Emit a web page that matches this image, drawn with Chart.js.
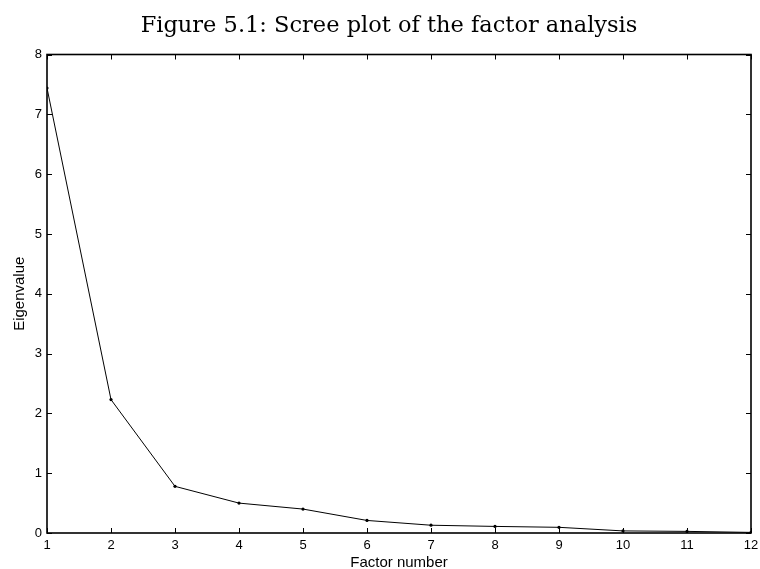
<!DOCTYPE html>
<html>
<head>
<meta charset="utf-8">
<script src="https://cdn.jsdelivr.net/npm/chart.js@4/dist/chart.umd.min.js"></script>
<style>
  html, body { margin: 0; padding: 0; background: #ffffff; }
  #wrap { width: 760px; height: 569px; position: relative; }
</style>
</head>
<body>
<div id="wrap"><canvas id="c" width="760" height="569"></canvas></div>
<script>
const factorNumbers = [1, 2, 3, 4, 5, 6, 7, 8, 9, 10, 11, 12];
const eigenvalues = [7.44, 2.23, 0.78, 0.50, 0.40, 0.21, 0.13, 0.11, 0.095, 0.035, 0.027, 0.01];
const xTickValues = [1, 2, 3, 4, 5, 6, 7, 8, 9, 10, 11, 12];
const yTickValues = [0, 1, 2, 3, 4, 5, 6, 7, 8];
const titleText = 'Figure 5.1: Scree plot of the factor analysis';
const xTitle = 'Factor number';
const yTitle = 'Eigenvalue';

const points = factorNumbers.map((f, i) => ({ x: f, y: eigenvalues[i] }));

const frameTicks = {
  id: 'frameTicks',
  afterDatasetsDraw(chart) {
    const { ctx, chartArea: a, scales } = chart;
    const xs = scales.x, ys = scales.y;
    const L = 5;
    ctx.save();
    ctx.strokeStyle = '#000';
    ctx.lineWidth = 1;
    ctx.beginPath();
    xTickValues.forEach(v => {
      const px = Math.round(xs.getPixelForValue(v)) + 0.5;
      ctx.moveTo(px, a.bottom); ctx.lineTo(px, a.bottom - L);
      ctx.moveTo(px, a.top); ctx.lineTo(px, a.top + L);
    });
    yTickValues.forEach(v => {
      const py = Math.round(ys.getPixelForValue(v)) + 0.5;
      ctx.moveTo(a.left, py); ctx.lineTo(a.left + L, py);
      ctx.moveTo(a.right, py); ctx.lineTo(a.right - L, py);
    });
    ctx.stroke();
    ctx.lineWidth = 1.6;
    ctx.strokeRect(a.left, a.top, a.right - a.left, a.bottom - a.top);
    ctx.restore();
  }
};

new Chart(document.getElementById('c'), {
  type: 'line',
  data: {
    datasets: [{
      data: points,
      borderColor: '#000',
      backgroundColor: '#000',
      borderWidth: 1,
      pointRadius: 1.6,
      pointHoverRadius: 1.6,
      pointBorderWidth: 0,
      tension: 0,
      fill: false
    }]
  },
  options: {
    responsive: false,
    animation: false,
    devicePixelRatio: 1,
    layout: { padding: { left: 18, right: 0, top: 0, bottom: 0 } },
    plugins: {
      legend: { display: false },
      tooltip: { enabled: false },
      title: {
        display: true,
        text: titleText,
        color: '#000',
        font: { family: 'DejaVu Serif', size: 22.5, weight: 'normal', lineHeight: 1.2 },
        padding: { top: 12.5, bottom: 15 }
      }
    },
    scales: {
      x: {
        type: 'linear',
        min: 1, max: 12,
        afterBuildTicks(scale) { scale.ticks = xTickValues.map(v => ({ value: v })); },
        afterFit(scale) { scale.height = 36; scale.paddingLeft = 0; scale.paddingRight = 9; },
        grid: { display: false, drawTicks: false },
        border: { display: false },
        ticks: {
          color: '#000',
          padding: 5,
          maxRotation: 0,
          autoSkip: false,
          font: { family: 'Liberation Sans', size: 13 }
        },
        title: {
          display: true,
          text: xTitle,
          color: '#000',
          padding: { top: -2.5, bottom: -2.5 },
          font: { family: 'Liberation Sans', size: 15 }
        }
      },
      y: {
        type: 'linear',
        min: 0, max: 8,
        afterBuildTicks(scale) { scale.ticks = yTickValues.map(v => ({ value: v })); },
        afterFit(scale) { scale.width = 29; scale.paddingTop = 0; scale.paddingBottom = 0; },
        grid: { display: false, drawTicks: false },
        border: { display: false },
        ticks: {
          color: '#000',
          padding: 5,
          autoSkip: false,
          font: { family: 'Liberation Sans', size: 13 }
        },
        title: {
          display: true,
          text: yTitle,
          color: '#000',
          padding: { top: -7.5, bottom: 0 },
          font: { family: 'Liberation Sans', size: 15 }
        }
      }
    }
  },
  plugins: [frameTicks]
});
</script>
</body>
</html>
